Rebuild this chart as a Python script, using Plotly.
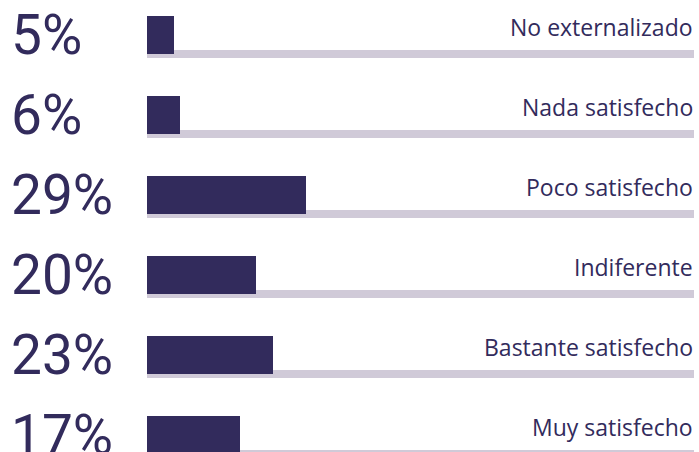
import plotly.graph_objects as go

categories = ["No externalizado", "Nada satisfecho", "Poco satisfecho",
              "Indiferente", "Bastante satisfecho", "Muy satisfecho"]
values = [5, 6, 29, 20, 23, 17]
pct_labels = ["5%", "6%", "29%", "20%", "23%", "17%"]
track_total = [100, 100, 100, 100, 100, 100]

NAVY = "#322B5C"
TRACK = "#D0CAD8"

rows = list(range(len(categories)))

fig = go.Figure()
fig.add_trace(go.Bar(
    x=track_total, y=rows, orientation="h",
    width=0.1, offset=-0.05,
    marker=dict(color=TRACK, line=dict(width=0)),
    hoverinfo="skip", showlegend=False,
))
fig.add_trace(go.Bar(
    x=values, y=rows, orientation="h",
    width=0.475, offset=-0.475,
    marker=dict(color=NAVY, line=dict(width=0)),
    showlegend=False,
))

annotations = []
for i, (cat, pct) in enumerate(zip(categories, pct_labels)):
    annotations.append(dict(
        x=-138 / 547, xref="paper", y=i - 0.2375, yref="y",
        text=pct, showarrow=False, xanchor="left", yanchor="middle",
        yshift=0,
        font=dict(family="Roboto", size=55, color=NAVY),
    ))
    annotations.append(dict(
        x=100, xref="x", y=i - 0.2, yref="y",
        text=cat, showarrow=False, xanchor="right", yanchor="bottom",
        yshift=-7, xshift=1,
        font=dict(family="Open Sans", size=23, color=NAVY),
    ))

fig.update_layout(
    width=699, height=452,
    margin=dict(l=147, r=5, t=0, b=0, pad=0),
    paper_bgcolor="white", plot_bgcolor="white",
    barmode="overlay", bargap=0,
    xaxis=dict(range=[0, 100], visible=False, fixedrange=True),
    yaxis=dict(range=[4.975, -0.675], visible=False, fixedrange=True),
    annotations=annotations,
)

fig.write_html(
    "out.html",
    config={"displayModeBar": False},
    post_script="document.body.style.margin='0';document.body.style.overflow='hidden';",
)
